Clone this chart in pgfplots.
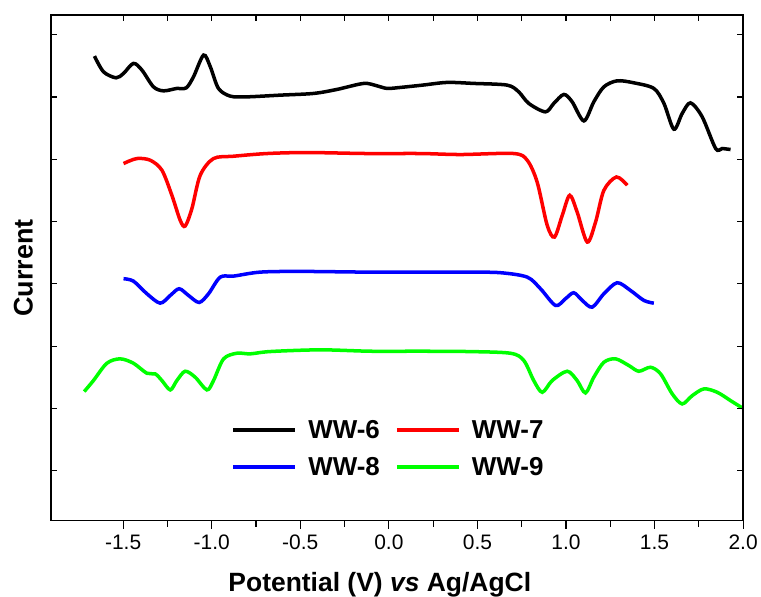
\documentclass[border=0pt]{standalone}
\usepackage{pgfplots}
\pgfplotsset{compat=1.18}
\usepackage{fontspec}
\setmainfont{Liberation Sans}

\pgfplotsset{
  common/.style={
    scale only axis, width=691bp, height=505bp,
    xmin=-1.907, xmax=2.0, ymin=0, ymax=505,
    axis line style={line width=1.3bp},
    every tick/.style={black, line width=1.2bp},
    xtick={-1.5,-1.0,-0.5,0,0.5,1.0,1.5,2.0},
    minor x tick num=1,
  },
}

\begin{document}
\begin{tikzpicture}
\begin{axis}[common,
  xtick pos=bottom, tick align=outside,
  major tick length=8bp, minor tick length=6bp,
  ytick=\empty,
  xticklabels={-1.5,-1.0,-0.5,0.0,0.5,1.0,1.5,2.0},
  xticklabel style={font=\fontsize{21}{25}\selectfont, yshift=-3bp},
  xlabel={\fontsize{26.5}{31}\selectfont\bfseries Potential (V) \textit{vs} Ag/AgCl},
  xlabel style={at={(axis description cs:0.475,-0.139)}, anchor=base, inner sep=0pt},
  ylabel={\fontsize{27}{31}\selectfont\bfseries Current},
  ylabel style={at={(axis description cs:-0.026,0.5)}, anchor=south, inner sep=0pt},
  legend columns=2,
  legend style={draw=none, fill=none, inner sep=0pt,
    at={(axis description cs:0.260,0.203)}, anchor=north west,
    nodes={inner sep=2bp},
    font=\fontsize{26}{31}\selectfont\bfseries,
    row sep=13bp,
    /tikz/every odd column/.append style={column sep=9bp},
    /tikz/every even column/.append style={column sep=13bp}},
  legend image code/.code={\draw[#1, line width=4bp] (0bp,0bp) -- (62bp,0bp);},
  every axis plot/.append style={line width=3.5bp, smooth, tension=0.5},
]
\addplot[black] coordinates {
(-1.662,464) (-1.611,448.3) (-1.540,442.3) (-1.498,446.7) (-1.442,456.7)
(-1.394,450) (-1.329,433.3) (-1.272,429.3) (-1.197,431.7) (-1.144,432.3)
(-1.103,443.3) (-1.046,465) (-1.008,453.3) (-0.962,431.7) (-0.895,424)
(-0.801,423.3) (-0.613,425) (-0.425,426.7) (-0.293,430.7) (-0.142,436.7)
(-0.067,434.3) (-0.010,431.7) (0.065,432.7) (0.19,435) (0.329,437.7)
(0.479,436.7) (0.668,435) (0.733,428.3) (0.790,416.7) (0.884,408.3)
(0.931,416.7) (0.988,425.7) (1.035,418.3) (1.101,399.3) (1.157,418.3)
(1.214,433.3) (1.289,439.3) (1.383,437.3) (1.496,431.7) (1.553,416.7)
(1.609,391) (1.656,406.7) (1.703,417.3) (1.769,403.3) (1.845,371.7)
(1.882,371.7) (1.929,370.7)
};
\addlegendentry{WW-6}
\addplot[red] coordinates {
(-1.498,356.7) (-1.423,361.7) (-1.347,360) (-1.281,350) (-1.225,325)
(-1.178,300) (-1.150,294.3) (-1.112,311.7) (-1.065,345) (-0.990,361.7)
(-0.877,364) (-0.688,366.7) (-0.462,367.7) (-0.123,366.7) (0.178,366.7)
(0.404,365.7) (0.705,366.7) (0.781,360) (0.837,338.3) (0.894,295)
(0.935,283.3) (0.979,305) (1.021,325) (1.063,308.3) (1.120,278.3)
(1.167,298.3) (1.214,330) (1.285,343.3) (1.346,335)
};
\addlegendentry{WW-7}
\addplot[blue] coordinates {
(-1.498,241.7) (-1.442,239.3) (-1.366,226.7) (-1.291,217.3) (-1.234,225)
(-1.184,231.7) (-1.131,225) (-1.071,218) (-1.018,226.7) (-0.952,243.3)
(-0.877,244.3) (-0.726,248.3) (-0.500,249) (-0.123,248.3) (0.178,248.3)
(0.442,248.3) (0.630,247.7) (0.781,243.3) (0.856,231.7) (0.941,215)
(0.997,221.7) (1.044,227.7) (1.092,220) (1.148,213.3) (1.214,226.7)
(1.289,237.7) (1.364,230) (1.440,220) (1.496,217.3)
};
\addlegendentry{WW-8}
\addplot[color={rgb,255:red,0;green,255;blue,0}] coordinates {
(-1.720,129) (-1.668,140) (-1.592,157.3) (-1.517,161.7) (-1.442,157.3)
(-1.366,147.3) (-1.319,146.7) (-1.281,140) (-1.234,130.7) (-1.197,140)
(-1.150,149.3) (-1.093,143.3) (-1.027,130.7) (-0.990,140) (-0.933,161.7)
(-0.858,167.3) (-0.782,166.7) (-0.669,169) (-0.387,170.7) (-0.105,169.3)
(0.178,169.3) (0.442,169) (0.686,167.3) (0.762,160) (0.818,140)
(0.866,128.3) (0.922,140) (1.007,149.3) (1.063,140) (1.110,127.7)
(1.157,143.3) (1.214,158.3) (1.280,161.7) (1.355,155) (1.411,149.3)
(1.477,153.3) (1.534,146.7) (1.600,126.7) (1.656,116.7) (1.713,125)
(1.779,131.7) (1.854,128.3) (1.929,120) (1.995,112.7)
};
\addlegendentry{WW-9}
\end{axis}
\begin{axis}[common,
  xtick pos=right, tick align=inside,
  major tick length=6bp, minor tick length=6bp,
  xticklabels={},
  ytick={50,112.2,174.4,236.6,298.8,361,423.2,485.4},
  ytick pos=both, yticklabels={},
]
\end{axis}
\path (current axis.north west) ++(-51bp,15bp);
\end{tikzpicture}
\end{document}
